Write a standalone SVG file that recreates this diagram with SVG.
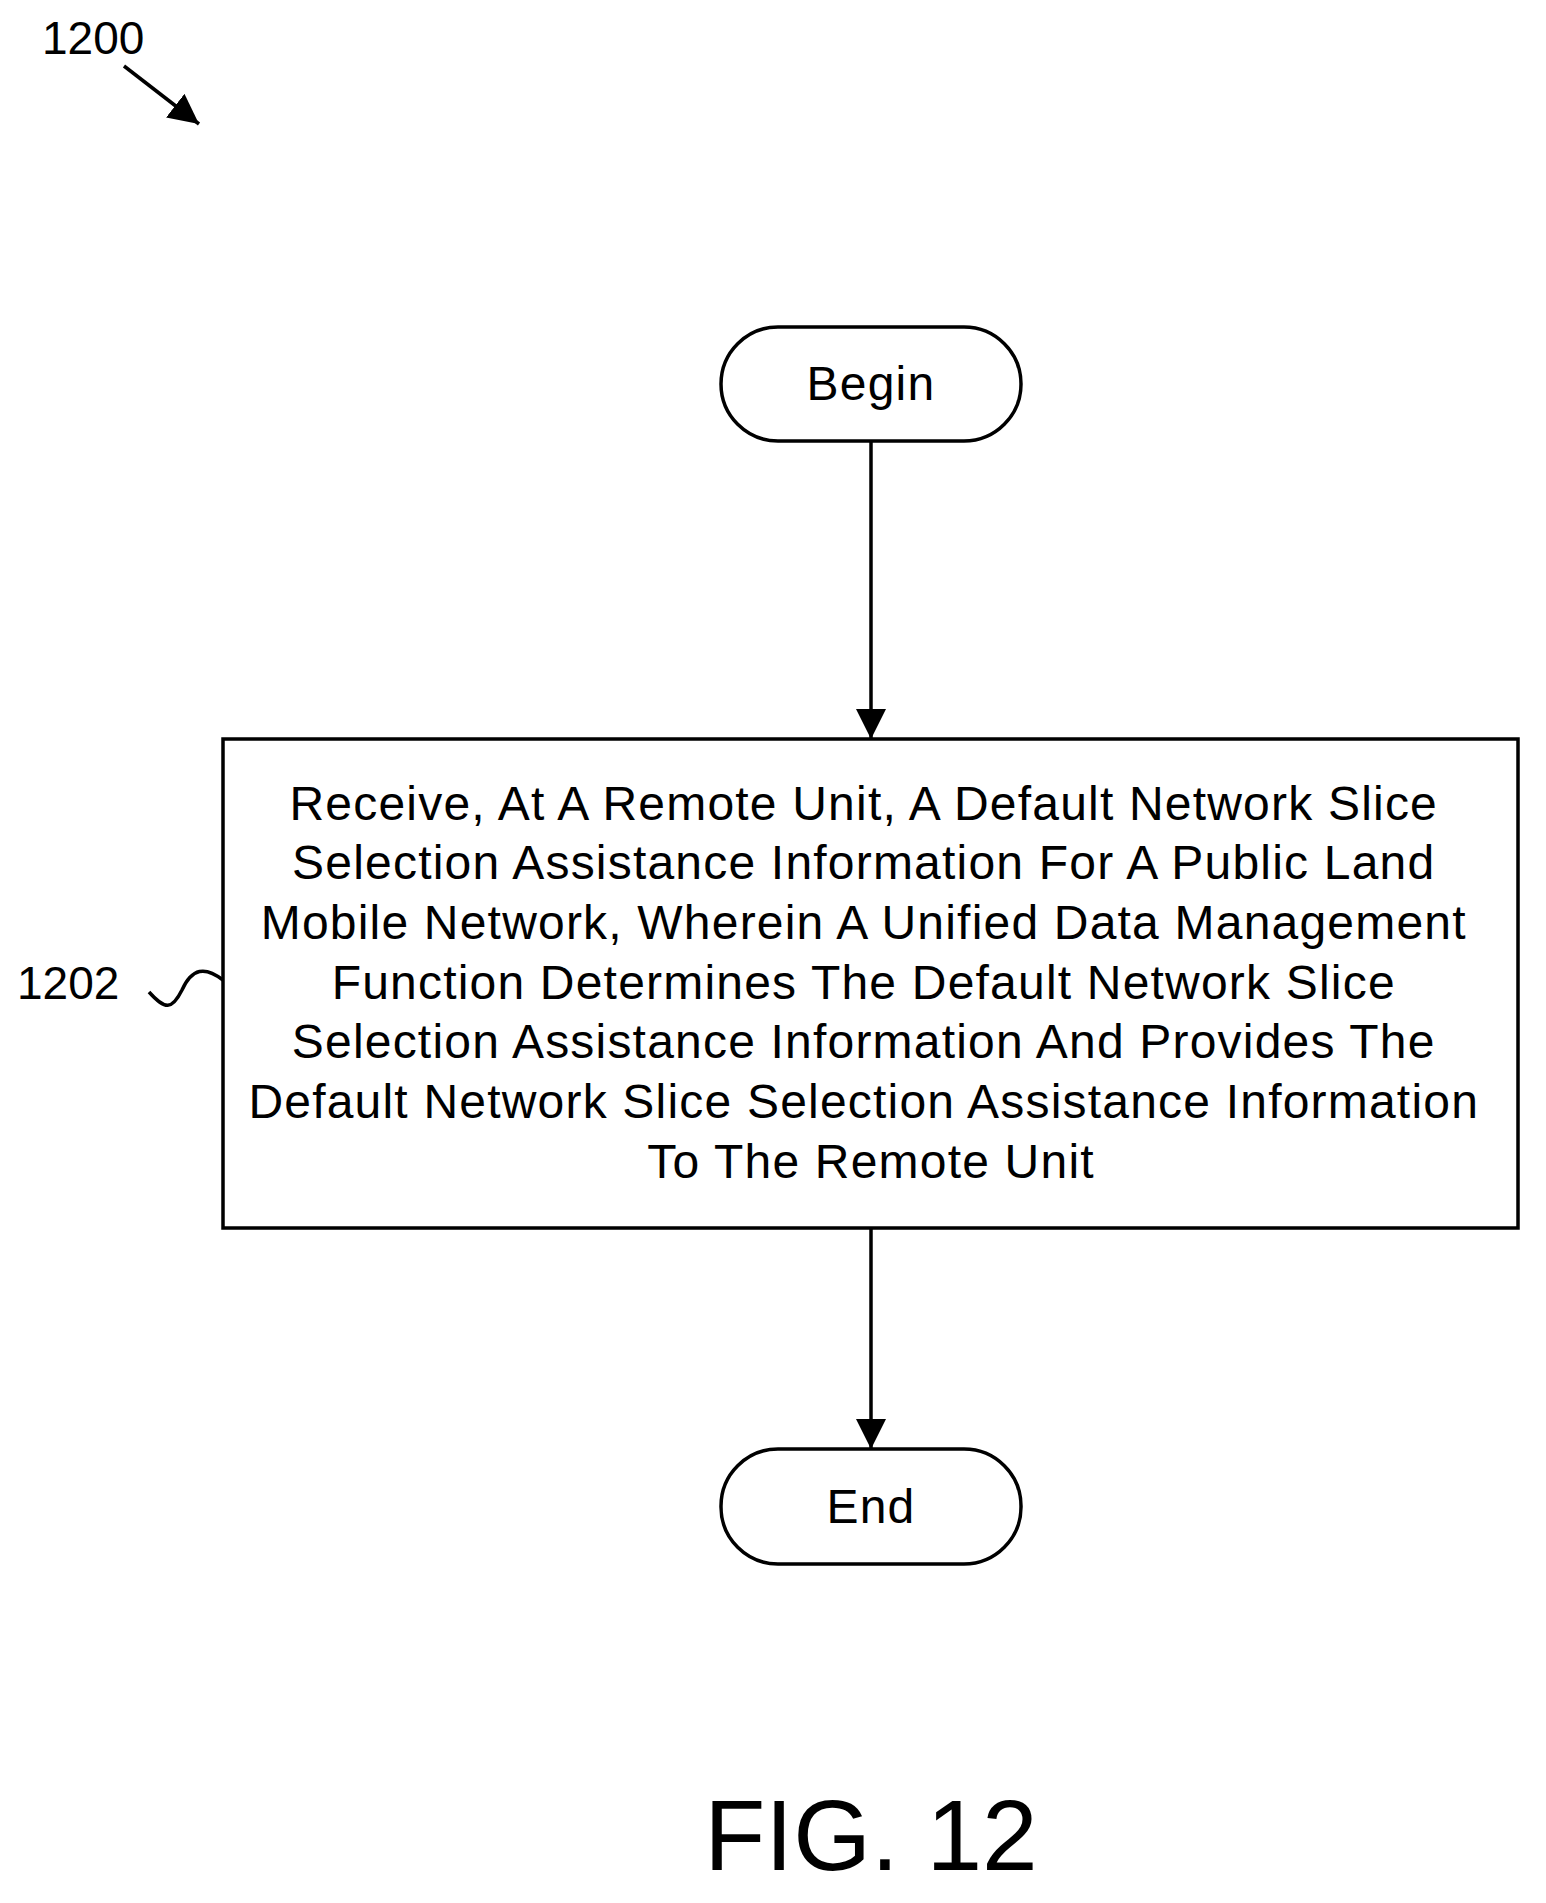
<svg xmlns="http://www.w3.org/2000/svg" width="1546" height="1903" viewBox="0 0 1546 1903">
<style>
.t{font-family:"Liberation Sans",Arial,sans-serif;font-size:46px;fill:#000}
.b{font-size:48px;letter-spacing:1.2px}
.s{fill:#fff;stroke:#000;stroke-width:3.5}
.c{stroke:#000;stroke-width:3.5;fill:none}
</style>
<defs>
<marker id="b" viewBox="0 0 10 10" refX="10" refY="5" markerWidth="30" markerHeight="30" orient="auto" markerUnits="userSpaceOnUse"><path d="M0,0 L10,5 L0,10 z" fill="#000"/></marker></defs>
<rect width="1546" height="1903" fill="#fff"/>
<g id="label1200"><text class="t" x="42" y="54">1200</text>
<path class="c" d="M124,66 L199,124" marker-end="url(#b)"/></g>
<g id="begin"><rect class="s" x="721" y="327" width="300" height="114" rx="57"/><text class="t b" x="871" y="400" text-anchor="middle">Begin</text></g>
<g id="step1202"><rect class="s" x="223" y="739" width="1295" height="489"/>
<text class="t b" text-anchor="middle" x="871">
<tspan x="871" y="820">Receive, At A Remote Unit, A Default Network Slice</tspan>
<tspan x="871" y="879">Selection Assistance Information For A Public Land</tspan>
<tspan x="871" y="939">Mobile Network, Wherein A Unified Data Management</tspan>
<tspan x="871" y="999">Function Determines The Default Network Slice</tspan>
<tspan x="871" y="1058">Selection Assistance Information And Provides The</tspan>
<tspan x="871" y="1118">Default Network Slice Selection Assistance Information</tspan>
<tspan x="871" y="1178">To The Remote Unit</tspan></text>
<text class="t" x="17" y="999">1202</text>
<path class="c" d="M149,992 C165,1010 172,1010 182,990 C192,968 205,966 223,980"/></g>
<g id="end"><rect class="s" x="721" y="1449" width="300" height="115" rx="57"/><text class="t b" x="871" y="1523" text-anchor="middle">End</text></g>
<g id="connectors">
<path class="c" d="M871,441 L871,739" marker-end="url(#b)"/>
<path class="c" d="M871,1228 L871,1449" marker-end="url(#b)"/>
</g>
<text class="t" x="871" y="1870" text-anchor="middle" style="font-size:100px">FIG. 12</text>
</svg>
